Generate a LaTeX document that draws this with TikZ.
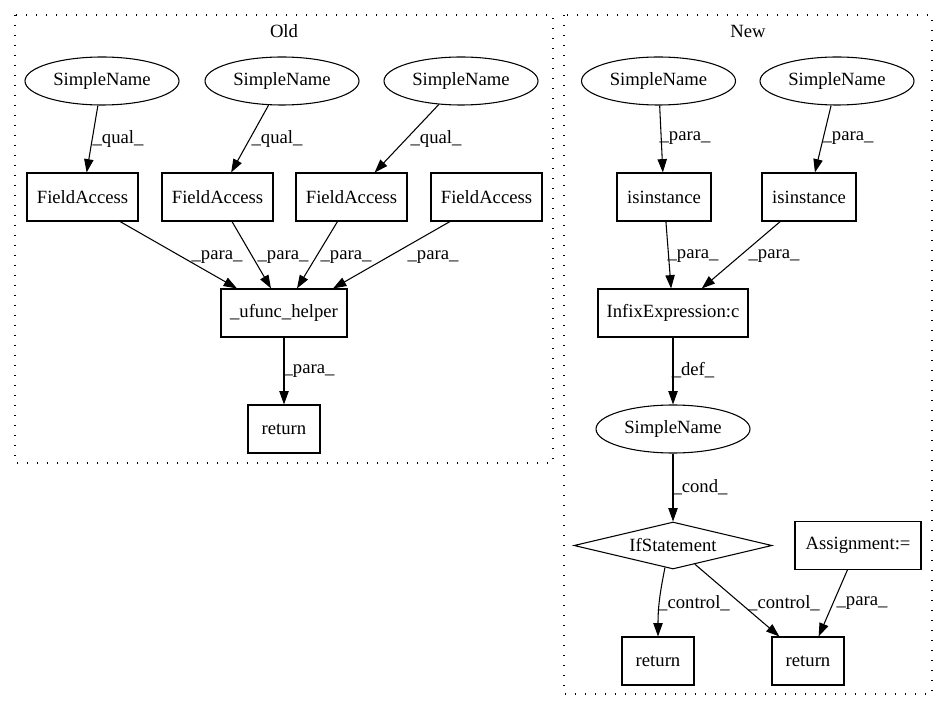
\documentclass[tikz,border=0pt]{standalone}
\usepackage{fontspec}
\setmainfont{Liberation Serif}
\usetikzlibrary{shapes.geometric,arrows.meta,calc}
\begin{document}
\begin{tikzpicture}[x=0.75pt,y=-0.75pt,
  every node/.style={font=\fontsize{14}{16}\selectfont, inner sep=0pt},
  box/.style={draw, rectangle, line width=0.8pt, minimum height=36pt},
  ell/.style={draw, ellipse, line width=0.8pt, minimum width=115.5pt, minimum height=36pt},
  dia/.style={draw, diamond, line width=0.8pt, minimum width=148.5pt, minimum height=35.25pt, shape aspect=4.2},
  arr/.style={-{Triangle[length=10pt,width=7pt]}, line width=0.8pt},
  cluster/.style={draw, line width=1pt, dash pattern=on 1pt off 6.5pt},
  lbl/.style={}]
\useasboundingbox (0,0) rectangle (948,712);

% clusters
\draw[cluster] (15,15) rectangle (553,463);
\draw[cluster] (564,15) rectangle (932,694);
\node (oldt) at (284,31) {Old};
\node (newt) at (748,31) {New};

% Old nodes
\node[ell] (sn1) at (102,81) {SimpleName};
\node[ell] (sn2) at (282,81) {SimpleName};
\node[ell] (sn3) at (461,81) {SimpleName};
\node[box, minimum width=83.25pt] (fa1) at (82.5,197) {FieldAccess};
\node[box, minimum width=83.25pt] (fa2) at (217.5,197) {FieldAccess};
\node[box, minimum width=83.25pt] (fa3) at (351.5,197) {FieldAccess};
\node[box, minimum width=83.25pt] (fa4) at (486.5,197) {FieldAccess};
\node[box, minimum width=94.5pt] (uf) at (284,313) {\_ufunc\_helper};
\node[box, minimum width=54pt] (ret) at (284,429) {return};

% Old edges
\draw[arr] (sn1) -- (fa1);
\draw[arr] (sn2) -- (fa2);
\draw[arr] (sn3) -- (fa3);
\draw[arr] ($(fa1.south)+(37.5,0)$) -- ($(uf.north)+(-47,0)$);
\draw[arr] ($(fa2.south)+(14.5,0)$) -- ($(uf.north)+(-13,0)$);
\draw[arr] ($(fa3.south)+(-14,0)$) -- ($(uf.north)+(13,0)$);
\draw[arr] ($(fa4.south)+(-36.5,0)$) -- ($(uf.north)+(49,0)$);
\draw[arr] (uf) -- (ret);

\node[lbl] (lq1) at (118,139) {\_qual\_};
\node[lbl] (lq2) at (277,139) {\_qual\_};
\node[lbl] (lq3) at (436,139) {\_qual\_};
\node[lbl] (lp1) at (217,257) {\_para\_};
\node[lbl] (lp2) at (283,257) {\_para\_};
\node[lbl] (lp3) at (346,257) {\_para\_};
\node[lbl] (lp4) at (433,257) {\_para\_};
\node[lbl] (lp5) at (309,371) {\_para\_};

% New nodes
\node[ell] (nsn1) at (658.5,81) {SimpleName};
\node[ell] (nsn2) at (837,81) {SimpleName};
\node[box, minimum width=70.5pt] (isi1) at (664,197) {isinstance};
\node[box, minimum width=70.5pt] (isi2) at (809,197) {isinstance};
\node[box, minimum width=112.5pt] (infix) at (673,313) {InfixExpression:c};
\node[ell] (nsn3) at (673,429) {SimpleName};
\node[dia] (ifs) at (673,545.5) {IfStatement};
\node[box, minimum width=94.5pt] (asg) at (858,545.5) {Assignment:=};
\node[box, minimum width=54pt] (nret1) at (658,661) {return};
\node[box, minimum width=54pt] (nret2) at (808,661) {return};

% New edges
\draw[arr] (nsn1) -- (isi1);
\draw[arr] (nsn2) -- (isi2);
\draw[arr] (isi1) -- (infix);
\draw[arr] (isi2) -- (infix);
\draw[arr] (infix) -- (nsn3);
\draw[arr] (nsn3) -- (ifs);
\draw[arr] (ifs.250) .. controls +(-5,25) and +(0,-30) .. (nret1.north);
\draw[arr] (ifs) -- (nret2);
\draw[arr] (asg) -- (nret2);

\node[lbl] (ln1) at (685,138) {\_para\_};
\node[lbl] (ln2) at (848,138) {\_para\_};
\node[lbl] (ln3) at (693,256) {\_para\_};
\node[lbl] (ln4) at (774,256) {\_para\_};
\node[lbl] (ln5) at (693,370) {\_def\_};
\node[lbl] (ln6) at (700,487) {\_cond\_};
\node[lbl] (ln7) at (694,603) {\_control\_};
\node[lbl] (ln8) at (784,603) {\_control\_};
\node[lbl] (ln9) at (862,603) {\_para\_};
\end{tikzpicture}
\end{document}
